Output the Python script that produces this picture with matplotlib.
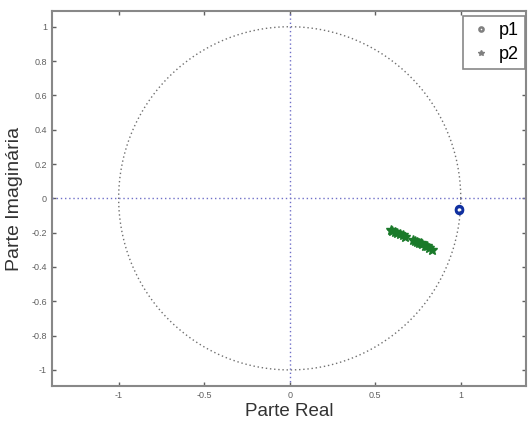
import numpy as np
import matplotlib.pyplot as plt

plt.rcParams['font.family'] = ['Liberation Sans', 'DejaVu Sans']

# polos
p1_re = [0.99, 0.99]
p1_im = [-0.065, -0.068]

p2_re = [0.59, 0.60, 0.615, 0.63, 0.645, 0.66, 0.675,
         0.72, 0.735, 0.745, 0.755, 0.765, 0.775, 0.79, 0.80, 0.815, 0.83]
p2_im = [-0.185, -0.19, -0.195, -0.20, -0.21, -0.215, -0.225,
         -0.245, -0.25, -0.255, -0.26, -0.258, -0.265, -0.275, -0.28, -0.29, -0.30]

xticks = [-1, -0.5, 0, 0.5, 1]
yticks = [-1, -0.8, -0.6, -0.4, -0.2, 0, 0.2, 0.4, 0.6, 0.8, 1]

fig = plt.figure(figsize=(5.3, 4.21), dpi=100)
ax = fig.add_axes([0.098, 0.083, 0.894, 0.891])

# circulo unitario e eixos
t = np.linspace(0, 2 * np.pi, 400)
ax.plot(np.cos(t), np.sin(t), linestyle=(0, (1, 2)), color='#707070', linewidth=1)
ax.axhline(0, linestyle=(0, (1, 2)), color='#7070c8', linewidth=1)
ax.axvline(0, linestyle=(0, (1, 2)), color='#7070c8', linewidth=1)

ax.plot(p1_re, p1_im, 'o', color='#1030a0', markerfacecolor='none',
        markersize=5, markeredgewidth=1.8, label='p1')
ax.plot(p2_re, p2_im, '*', color='#1a7a2a', markersize=7, label='p2')

ax.set_xlim(-1.39, 1.38)
ax.set_ylim(-1.094, 1.092)
ax.set_xticks(xticks)
ax.set_xticklabels(['-1', '-0.5', '0', '0.5', '1'])
ax.set_yticks(yticks)
ax.set_yticklabels(['-1', '-0.8', '-0.6', '-0.4', '-0.2', '0', '0.2', '0.4', '0.6', '0.8', '1'])
ax.tick_params(direction='in', top=True, right=True, labelsize=6.5, colors='#606060',
               length=3, width=1)
for s in ax.spines.values():
    s.set_color('#888888')
    s.set_linewidth(1.5)

ax.set_xlabel('Parte Real', fontsize=13.5, color='#333333', labelpad=2)
ax.set_ylabel('Parte Imaginária', fontsize=14, color='#333333', labelpad=6)

leg = ax.legend(loc='upper right', bbox_to_anchor=(1.0, 0.99), fontsize=13,
                borderaxespad=0.05, handletextpad=0.3,
                handlelength=1.3, fancybox=False, framealpha=1, borderpad=0.35,
                labelspacing=0.4, markerscale=0.6)
leg.get_frame().set_edgecolor('#888888')
leg.get_frame().set_linewidth(1.2)
for h in leg.legend_handles:
    h.set_color('#808080')

plt.savefig('out.png', dpi=100)
